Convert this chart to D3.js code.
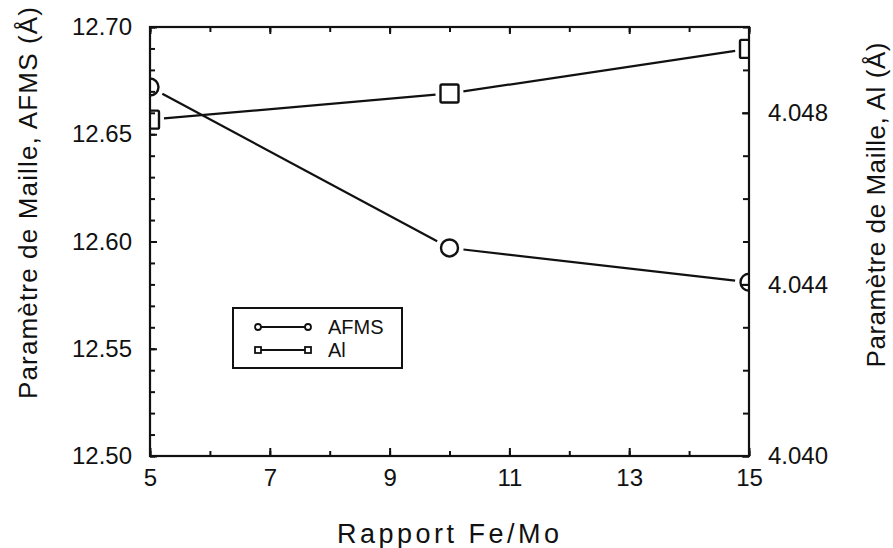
<!DOCTYPE html>
<html><head><meta charset="utf-8">
<script src="https://cdn.jsdelivr.net/npm/d3@7"></script>
<style>body{margin:0;background:#fff}text{font-family:"Liberation Sans",Arial,sans-serif;fill:#111}</style>
</head><body><svg id="c" width="893" height="548"></svg>
<script>
const ratios = [5, 10, 15];
const afms = [12.672, 12.597, 12.581];
const al = [4.04784, 4.04845, 4.04949];
const xTicks = [5, 7, 9, 11, 13, 15];
const leftTicks = [12.50, 12.55, 12.60, 12.65, 12.70];
const rightTicks = [4.040, 4.044, 4.048];
const seriesNames = ["AFMS", "Al"];

const svg = d3.select("#c");
const L = 150, R = 749, T = 27, B = 456;
const x = d3.scaleLinear().domain([5, 15]).range([L, R]);
const yL = d3.scaleLinear().domain([12.5, 12.7]).range([B, T]);
const yR = d3.scaleLinear().domain([4.040, 4.050]).range([B, T]);
const ink = "#111";

function styleAxis(g){ g.select(".domain").remove(); g.selectAll("line").attr("stroke", ink).attr("stroke-width", 2); }

// minor ticks
svg.append("g").attr("transform",`translate(0,${B})`).call(d3.axisBottom(x).tickValues(d3.range(5,16,1)).tickSize(-5).tickFormat("")).call(styleAxis);
svg.append("g").attr("transform",`translate(0,${T})`).call(d3.axisTop(x).tickValues(d3.range(5,16,1)).tickSize(-5).tickFormat("")).call(styleAxis);
svg.append("g").attr("transform",`translate(${L},0)`).call(d3.axisLeft(yL).tickValues(d3.range(0,21).map(i=>12.5+i*0.01)).tickSize(-5).tickFormat("")).call(styleAxis);
svg.append("g").attr("transform",`translate(${R},0)`).call(d3.axisRight(yR).tickValues(d3.range(0,11).map(i=>4.040+i*0.001)).tickSize(-6).tickFormat("")).call(styleAxis);

// major ticks + labels
const gx = svg.append("g").attr("transform",`translate(0,${B})`).call(d3.axisBottom(x).tickValues(xTicks).tickSize(-8).tickPadding(17).tickFormat(d3.format("d"))).call(styleAxis);
svg.append("g").attr("transform",`translate(0,${T})`).call(d3.axisTop(x).tickValues(xTicks).tickSize(-7).tickFormat("")).call(styleAxis);
const gl = svg.append("g").attr("transform",`translate(${L},0)`).call(d3.axisLeft(yL).tickValues(leftTicks).tickSize(-7).tickPadding(18).tickFormat(d3.format(".2f"))).call(styleAxis);
const gr = svg.append("g").attr("transform",`translate(${R},0)`).call(d3.axisRight(yR).tickValues(rightTicks).tickSize(-7).tickPadding(19).tickFormat(d3.format(".3f"))).call(styleAxis);
[gx, gl, gr].forEach(g => g.selectAll("text").attr("font-size", 24).attr("fill", ink).attr("font-family", "Liberation Sans, Arial, sans-serif"));
gx.selectAll("text").attr("dy", "0.55em");

// frame
svg.append("rect").attr("x", L).attr("y", T).attr("width", R-L).attr("height", B-T).attr("fill","none").attr("stroke", ink).attr("stroke-width", 2.2);

// clip
svg.append("clipPath").attr("id","plot").append("rect").attr("x",L).attr("y",T).attr("width",R-L).attr("height",B-T);
const plot = svg.append("g").attr("clip-path","url(#plot)");

function drawSeries(vals, yScale, shape){
  const pts = ratios.map((r,i)=>[x(r), yScale(vals[i])]);
  const gap = 14;
  for (let i=0;i<pts.length-1;i++){
    const [x1,y1]=pts[i],[x2,y2]=pts[i+1];
    const dx=x2-x1, dy=y2-y1, len=Math.hypot(dx,dy);
    const ux=dx/len, uy=dy/len;
    plot.append("line").attr("x1",x1+ux*gap).attr("y1",y1+uy*gap).attr("x2",x2-ux*gap).attr("y2",y2-uy*gap)
      .attr("stroke",ink).attr("stroke-width",2.2);
  }
  pts.forEach(([px,py])=>{
    if(shape==="circle") plot.append("circle").attr("cx",px).attr("cy",py).attr("r",8.5).attr("fill","none").attr("stroke",ink).attr("stroke-width",2.4);
    else plot.append("rect").attr("x",px-9).attr("y",py-9).attr("width",18).attr("height",18).attr("rx",1.5).attr("fill","none").attr("stroke",ink).attr("stroke-width",2.4);
  });
}
drawSeries(afms, yL, "circle");
drawSeries(al, yR, "square");

// legend
const lg = svg.append("g");
lg.append("rect").attr("x",233).attr("y",308).attr("width",169).attr("height",60).attr("fill","none").attr("stroke",ink).attr("stroke-width",2);
seriesNames.forEach((name,i)=>{
  const yy = 327 + i*23;
  lg.append("line").attr("x1",260).attr("x2",306).attr("y1",yy).attr("y2",yy).attr("stroke",ink).attr("stroke-width",2);
  [258,308].forEach(cx=>{
    if(i===0) lg.append("circle").attr("cx",cx).attr("cy",yy).attr("r",3).attr("fill","#fff").attr("stroke",ink).attr("stroke-width",1.8);
    else lg.append("rect").attr("x",cx-3).attr("y",yy-3).attr("width",6).attr("height",6).attr("fill","#fff").attr("stroke",ink).attr("stroke-width",1.8);
  });
  lg.append("text").attr("x",328).attr("y",yy+7).attr("font-size",20).text(name);
});

// axis titles
svg.append("text").attr("transform","translate(37,203) rotate(-90)").attr("text-anchor","middle").attr("font-size",26)
  .attr("textLength",392).attr("lengthAdjust","spacing").text("Paramètre de Maille, AFMS (Å)");
svg.append("text").attr("transform","translate(885,205) rotate(-90)").attr("text-anchor","middle").attr("font-size",26)
  .attr("textLength",325).attr("lengthAdjust","spacing").text("Paramètre de Maille, Al (Å)");
svg.append("text").attr("x",448).attr("y",543).attr("text-anchor","middle").attr("font-size",27)
  .attr("textLength",222).attr("lengthAdjust","spacing").text("Rapport Fe/Mo");
</script></body></html>
